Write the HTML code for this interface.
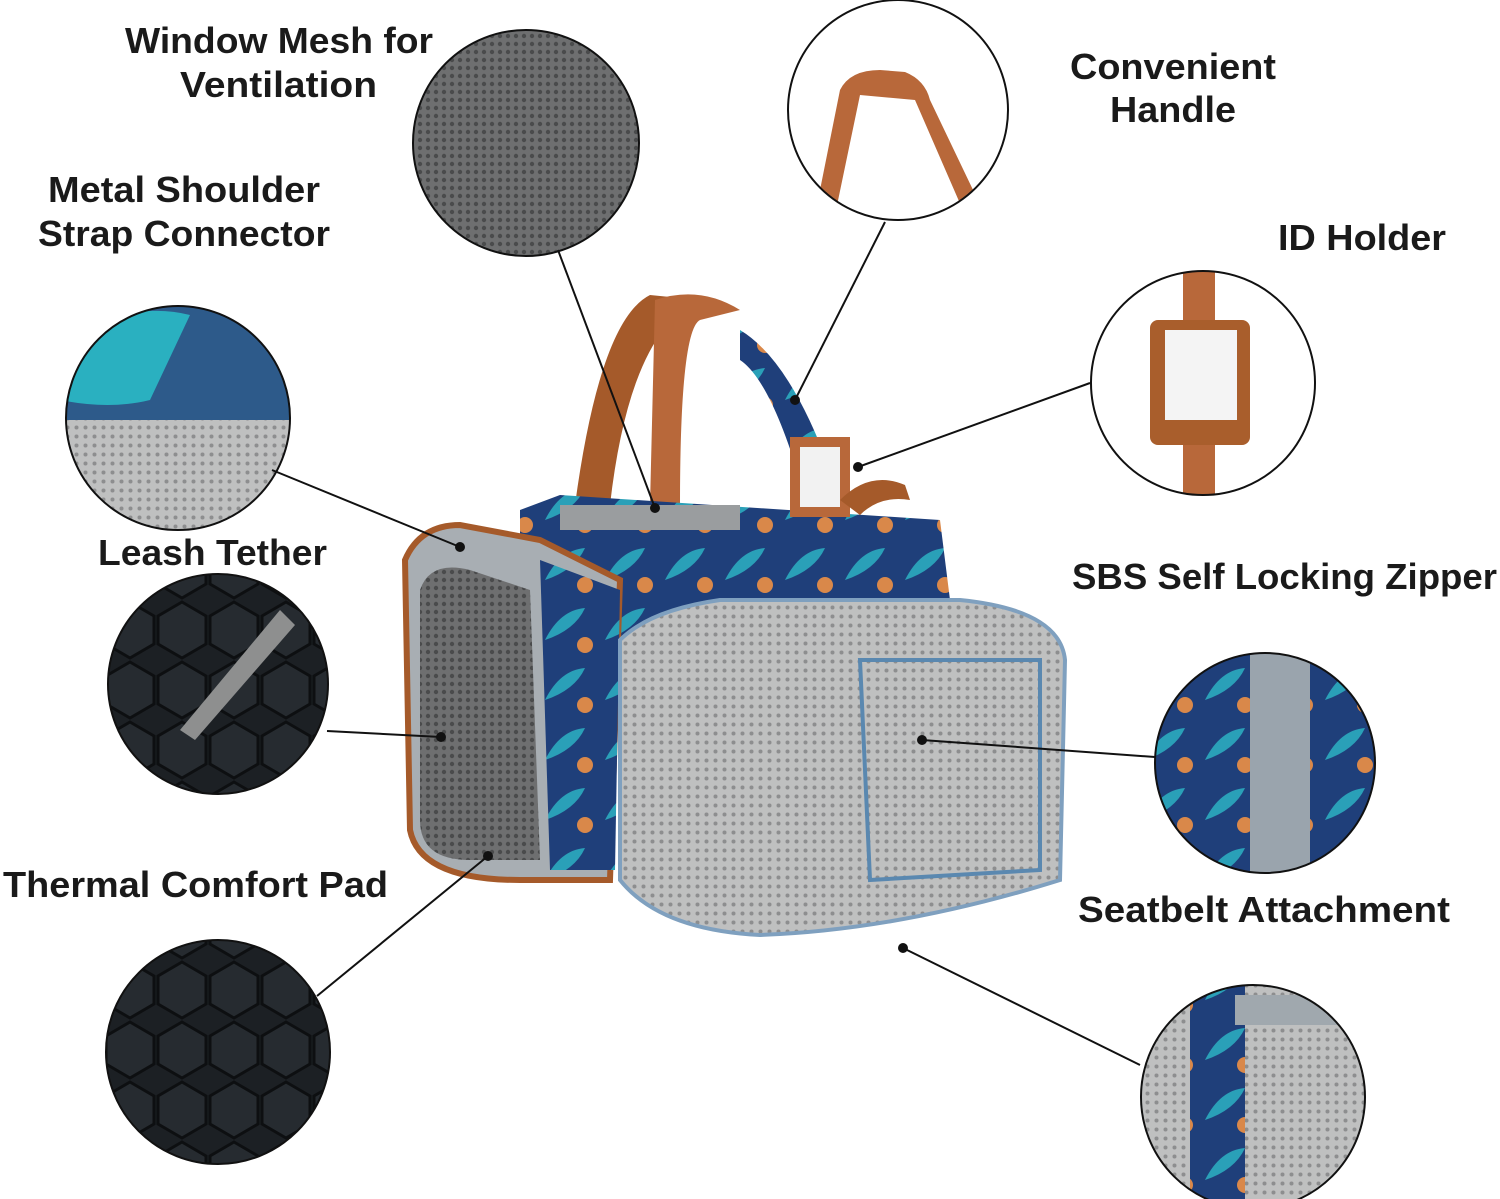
<!DOCTYPE html>
<html><head><meta charset="utf-8"><style>
html,body{margin:0;padding:0;background:#fff;width:1500px;height:1199px;overflow:hidden}
svg{display:block}
text{font-family:"Liberation Sans",sans-serif;font-weight:bold;fill:#1a1a1a;font-size:36px}
</style></head><body>
<svg width="1500" height="1199" viewBox="0 0 1500 1199" xmlns="http://www.w3.org/2000/svg">
<defs>
<pattern id="mesh" width="8" height="8" patternUnits="userSpaceOnUse"><rect width="8" height="8" fill="#6e6f70"/><circle cx="4" cy="4" r="2.2" fill="#4a4b4c"/></pattern>
<pattern id="gmesh" width="9" height="9" patternUnits="userSpaceOnUse"><rect width="9" height="9" fill="#bfc0c0"/><circle cx="4.5" cy="4.5" r="2" fill="#8d8e8f"/></pattern>
<pattern id="hex" width="52" height="60" patternUnits="userSpaceOnUse"><rect width="52" height="60" fill="#1c2024"/><path d="M26 2 L50 16 L50 44 L26 58 L2 44 L2 16 Z" fill="#262b30" stroke="#0d0f11" stroke-width="3"/></pattern>
<pattern id="blue" width="60" height="60" patternUnits="userSpaceOnUse"><rect width="60" height="60" fill="#1f3f7a"/><path d="M5 40 Q20 10 45 8 Q35 30 5 40Z" fill="#2aa0b8"/><circle cx="45" cy="45" r="8" fill="#d9884a"/></pattern>
<clipPath id="c2"><circle cx="898" cy="110" r="110"/></clipPath>
<clipPath id="c3"><circle cx="1203" cy="383" r="112"/></clipPath>
<clipPath id="c4"><circle cx="178" cy="418" r="112"/></clipPath>
<clipPath id="c5"><circle cx="218" cy="684" r="110"/></clipPath>
<clipPath id="c7"><circle cx="1265" cy="763" r="110"/></clipPath>
<clipPath id="c8"><circle cx="1253" cy="1097" r="112"/></clipPath>
</defs>

<text x="125" y="53" textLength="308" lengthAdjust="spacingAndGlyphs">Window Mesh for</text>
<text x="180" y="97" textLength="197" lengthAdjust="spacingAndGlyphs">Ventilation</text>
<text x="48" y="202" textLength="272" lengthAdjust="spacingAndGlyphs">Metal Shoulder</text>
<text x="38" y="246" textLength="292" lengthAdjust="spacingAndGlyphs">Strap Connector</text>
<text x="1070" y="79" textLength="206" lengthAdjust="spacingAndGlyphs">Convenient</text>
<text x="1110" y="122" textLength="126" lengthAdjust="spacingAndGlyphs">Handle</text>
<text x="1278" y="250" textLength="168" lengthAdjust="spacingAndGlyphs">ID Holder</text>
<text x="98" y="565" textLength="229" lengthAdjust="spacingAndGlyphs">Leash Tether</text>
<text x="1072" y="589" textLength="425" lengthAdjust="spacingAndGlyphs">SBS Self Locking Zipper</text>
<text x="3" y="897" textLength="385" lengthAdjust="spacingAndGlyphs">Thermal Comfort Pad</text>
<text x="1078" y="922" textLength="372" lengthAdjust="spacingAndGlyphs">Seatbelt Attachment</text>

<!-- Bag -->
<path d="M575 505 Q600 320 650 295 L700 300 Q630 330 610 505Z" fill="#a55a2a"/>
<path d="M655 300 Q700 285 740 310 L700 320 Q680 330 680 505 L650 505Z" fill="#b8683a"/>
<path d="M740 330 Q790 360 830 470 L800 480 Q770 380 740 360Z" fill="url(#blue)"/>
<path d="M520 510 L560 495 L940 520 L950 600 L620 660 L520 600Z" fill="url(#blue)"/>
<rect x="560" y="505" width="180" height="25" fill="#9a9d9f"/>
<path d="M405 560 Q420 525 460 525 L540 540 L620 580 L610 880 L520 880 Q420 880 410 830Z" fill="#a8aeb3" stroke="#a55a2a" stroke-width="6"/>
<path d="M420 590 Q430 560 470 570 L530 590 L540 860 L470 860 Q420 860 420 820Z" fill="url(#mesh)"/>
<path d="M540 560 L620 590 L615 870 L550 870Z" fill="url(#blue)"/>
<path d="M620 640 Q650 610 720 600 L960 600 Q1060 610 1065 660 L1060 880 Q900 930 760 935 Q660 930 620 880Z" fill="url(#gmesh)" stroke="#7fa0bf" stroke-width="4"/>
<path d="M860 660 L1040 660 L1040 870 L870 880Z" fill="url(#gmesh)" stroke="#5a88b0" stroke-width="4"/>
<rect x="790" y="437" width="60" height="80" fill="#b8683a"/>
<rect x="800" y="447" width="40" height="60" fill="#f2f2f2"/>
<path d="M840 500 Q870 470 905 485 L910 500 Q880 495 860 515Z" fill="#a55a2a"/>

<!-- Circles -->
<circle cx="526" cy="143" r="113" fill="url(#mesh)" stroke="#111" stroke-width="2"/>
<circle cx="898" cy="110" r="110" fill="#fff"/>
<g clip-path="url(#c2)">
<path d="M815 215 L840 90 Q850 70 880 70 L905 72 Q925 80 930 100 L985 215 L965 215 L915 100 L860 95 L835 215Z" fill="#b8683a"/>
</g>
<circle cx="898" cy="110" r="110" fill="none" stroke="#111" stroke-width="2"/>
<g clip-path="url(#c3)">
<rect x="1090" y="270" width="230" height="230" fill="#fff"/>
<rect x="1183" y="270" width="32" height="230" fill="#b8683a"/>
<rect x="1150" y="320" width="100" height="125" rx="8" fill="#a95e2c"/>
<rect x="1165" y="330" width="72" height="90" fill="#f4f4f4"/>
</g>
<circle cx="1203" cy="383" r="112" fill="none" stroke="#111" stroke-width="2"/>
<g clip-path="url(#c4)">
<rect x="60" y="300" width="240" height="240" fill="#2d5a8a"/>
<path d="M60 420 L300 420 L300 540 L60 540Z" fill="url(#gmesh)"/>
<path d="M60 340 Q130 300 190 315 L150 400 Q110 410 60 400Z" fill="#2ab0c0"/>
</g>
<circle cx="178" cy="418" r="112" fill="none" stroke="#111" stroke-width="2"/>
<g clip-path="url(#c5)">
<rect x="100" y="570" width="240" height="230" fill="url(#hex)"/>
<path d="M280 610 L295 625 L195 740 L180 730Z" fill="#8e8f8f"/>
</g>
<circle cx="218" cy="684" r="110" fill="none" stroke="#111" stroke-width="2"/>
<circle cx="218" cy="1052" r="112" fill="url(#hex)" stroke="#111" stroke-width="2"/>
<g clip-path="url(#c7)">
<rect x="1150" y="650" width="230" height="230" fill="url(#blue)"/>
<rect x="1250" y="650" width="60" height="230" fill="#9aa4ad"/>
</g>
<circle cx="1265" cy="763" r="110" fill="none" stroke="#111" stroke-width="2"/>
<g clip-path="url(#c8)">
<rect x="1140" y="980" width="230" height="230" fill="url(#gmesh)"/>
<rect x="1190" y="980" width="55" height="230" fill="url(#blue)"/>
<rect x="1235" y="995" width="135" height="30" fill="#a0a8ae"/>
</g>
<circle cx="1253" cy="1097" r="112" fill="none" stroke="#111" stroke-width="2"/>

<g stroke="#111" stroke-width="2">
<line x1="558" y1="250" x2="655" y2="508"/>
<line x1="885" y1="222" x2="795" y2="400"/>
<line x1="1090" y1="383" x2="858" y2="467"/>
<line x1="272" y1="470" x2="460" y2="547"/>
<line x1="327" y1="731" x2="441" y2="737"/>
<line x1="317" y1="996" x2="488" y2="856"/>
<line x1="1155" y1="757" x2="922" y2="740"/>
<line x1="1140" y1="1065" x2="903" y2="948"/>
</g>
<g fill="#111">
<circle cx="655" cy="508" r="5"/><circle cx="795" cy="400" r="5"/><circle cx="858" cy="467" r="5"/>
<circle cx="460" cy="547" r="5"/><circle cx="441" cy="737" r="5"/><circle cx="488" cy="856" r="5"/>
<circle cx="922" cy="740" r="5"/><circle cx="903" cy="948" r="5"/>
</g>
</svg>
</body></html>
